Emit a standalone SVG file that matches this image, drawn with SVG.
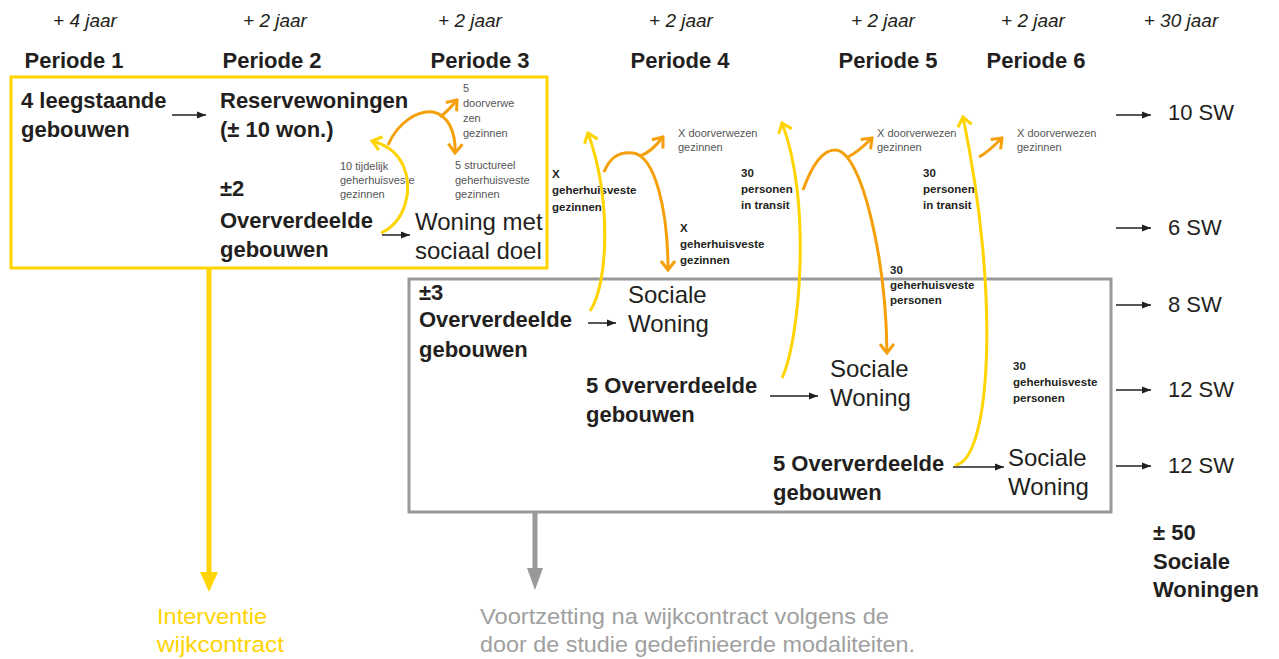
<svg xmlns="http://www.w3.org/2000/svg" width="1279" height="659" viewBox="0 0 1279 659">
<defs>
<style>
text{font-family:"Liberation Sans",Arial,sans-serif;fill:#231f20}
.it{font-style:italic;font-size:19px;text-anchor:middle}
.per{font-weight:bold;font-size:22px;text-anchor:middle}
.b{font-weight:bold;font-size:22px}
.r{font-size:24px}
.sw{font-size:22px}
.s{font-size:11px;fill:#555}
.sb{font-size:11.5px;font-weight:bold}
.blk{stroke:#231f20;stroke-width:1.5;fill:none}
.yc{stroke:#ffd400;stroke-width:3;fill:none}
.oc{stroke:#f5a00a;stroke-width:3;fill:none}
</style>
<marker id="ab" viewBox="0 0 10 10" refX="10" refY="5" markerWidth="9" markerHeight="9" markerUnits="userSpaceOnUse" orient="auto"><path d="M0,1 L10,5 L0,9 Z" fill="#231f20"/></marker>
<marker id="ay" viewBox="-12 -10 14 20" refX="0" refY="0" markerWidth="14" markerHeight="20" markerUnits="userSpaceOnUse" orient="auto"><path d="M-9,-7 L0,0 L-9,7" fill="none" stroke="#ffd400" stroke-width="3"/></marker>
<marker id="ao" viewBox="-12 -10 14 20" refX="0" refY="0" markerWidth="14" markerHeight="20" markerUnits="userSpaceOnUse" orient="auto"><path d="M-9,-7 L0,0 L-9,7" fill="none" stroke="#f5a00a" stroke-width="3"/></marker>
</defs>
<rect width="1279" height="659" fill="#ffffff"/>

<g id="header">
<text class="it" x="85" y="27">+ 4 jaar</text>
<text class="it" x="275" y="27">+ 2 jaar</text>
<text class="it" x="470" y="27">+ 2 jaar</text>
<text class="it" x="681" y="27">+ 2 jaar</text>
<text class="it" x="883" y="27">+ 2 jaar</text>
<text class="it" x="1033" y="27">+ 2 jaar</text>
<text class="it" x="1181" y="27">+ 30 jaar</text>
<text class="per" x="74" y="68">Periode 1</text>
<text class="per" x="272" y="68">Periode 2</text>
<text class="per" x="480" y="68">Periode 3</text>
<text class="per" x="680" y="68">Periode 4</text>
<text class="per" x="888" y="68">Periode 5</text>
<text class="per" x="1036" y="68">Periode 6</text>
</g>

<g id="box-wijkcontract">
<rect x="11" y="77" width="536" height="191" fill="none" stroke="#ffd400" stroke-width="3"/>
</g>
<g id="box-voortzetting">
<rect x="409" y="279" width="702" height="233" fill="none" stroke="#999999" stroke-width="3"/>
</g>

<g id="n-leegstaand"><text class="b" x="21" y="108">4 leegstaande</text><text class="b" x="21" y="137">gebouwen</text></g>
<g id="n-reserve"><text class="b" x="220" y="108">Reservewoningen</text><text class="b" x="220" y="137">(± 10 won.)</text></g>
<g id="n-over2"><text class="b" x="220" y="196">±2</text><text class="b" x="220" y="228">Oververdeelde</text><text class="b" x="220" y="257">gebouwen</text></g>
<g id="n-woning-sociaal"><text class="r" x="415" y="230">Woning met</text><text class="r" x="415" y="259">sociaal doel</text></g>

<g id="n-over3"><text class="b" x="419" y="300">±3</text><text class="b" x="419" y="327">Oververdeelde</text><text class="b" x="419" y="357">gebouwen</text></g>
<g id="n-sw1"><text class="r" x="628" y="303">Sociale</text><text class="r" x="628" y="332">Woning</text></g>
<g id="n-over5a"><text class="b" x="586" y="393">5 Oververdeelde</text><text class="b" x="586" y="422">gebouwen</text></g>
<g id="n-sw2"><text class="r" x="830" y="377">Sociale</text><text class="r" x="830" y="406">Woning</text></g>
<g id="n-over5b"><text class="b" x="773" y="471">5 Oververdeelde</text><text class="b" x="773" y="500">gebouwen</text></g>
<g id="n-sw3"><text class="r" x="1008" y="466">Sociale</text><text class="r" x="1008" y="495">Woning</text></g>

<g id="labels">
<text class="s"><tspan x="340" y="170">10 tijdelijk</tspan><tspan x="340" y="184">geherhuisveste</tspan><tspan x="340" y="198">gezinnen</tspan></text>
<text class="s"><tspan x="463" y="92">5</tspan><tspan x="463" y="107">doorverwe</tspan><tspan x="463" y="122">zen</tspan><tspan x="463" y="137">gezinnen</tspan></text>
<text class="s"><tspan x="455" y="169">5 structureel</tspan><tspan x="455" y="184">geherhuisveste</tspan><tspan x="455" y="198">gezinnen</tspan></text>
<text class="sb"><tspan x="552" y="178">X</tspan><tspan x="552" y="194">geherhuisveste</tspan><tspan x="552" y="211">gezinnen</tspan></text>
<text class="s"><tspan x="678" y="137">X doorverwezen</tspan><tspan x="678" y="151">gezinnen</tspan></text>
<text class="sb"><tspan x="680" y="232">X</tspan><tspan x="680" y="248">geherhuisveste</tspan><tspan x="680" y="264">gezinnen</tspan></text>
<text class="sb"><tspan x="741" y="177">30</tspan><tspan x="741" y="193">personen</tspan><tspan x="741" y="209">in transit</tspan></text>
<text class="s"><tspan x="877" y="137">X doorverwezen</tspan><tspan x="877" y="151">gezinnen</tspan></text>
<text class="sb"><tspan x="890" y="274">30</tspan><tspan x="890" y="289">geherhuisveste</tspan><tspan x="890" y="304">personen</tspan></text>
<text class="sb"><tspan x="923" y="177">30</tspan><tspan x="923" y="193">personen</tspan><tspan x="923" y="209">in transit</tspan></text>
<text class="s"><tspan x="1017" y="137">X doorverwezen</tspan><tspan x="1017" y="151">gezinnen</tspan></text>
<text class="sb"><tspan x="1013" y="370">30</tspan><tspan x="1013" y="386">geherhuisveste</tspan><tspan x="1013" y="402">personen</tspan></text>
</g>

<g id="n-totals">
<text class="sw" x="1168" y="120">10 SW</text>
<text class="sw" x="1168" y="235">6 SW</text>
<text class="sw" x="1168" y="312">8 SW</text>
<text class="sw" x="1168" y="397">12 SW</text>
<text class="sw" x="1168" y="473">12 SW</text>
<text class="b"><tspan x="1153" y="540">± 50</tspan><tspan x="1153" y="569">Sociale</tspan><tspan x="1153" y="597">Woningen</tspan></text>
</g>

<g id="n-outcomes">
<text style="font-size:22px;fill:#ffd400"><tspan x="157" y="624" textLength="110" lengthAdjust="spacingAndGlyphs">Interventie</tspan><tspan x="157" y="652" textLength="127" lengthAdjust="spacingAndGlyphs">wijkcontract</tspan></text>
<text style="font-size:22px;fill:#a0a0a0"><tspan x="480" y="624" textLength="409" lengthAdjust="spacingAndGlyphs">Voortzetting na wijkcontract volgens de</tspan><tspan x="480" y="652" textLength="435" lengthAdjust="spacingAndGlyphs">door de studie gedefinieerde modaliteiten.</tspan></text>
</g>

<g id="connectors">
<line class="blk" x1="172" y1="115" x2="206" y2="115" marker-end="url(#ab)"/>
<line class="blk" x1="382" y1="235" x2="410" y2="235" marker-end="url(#ab)"/>
<line class="blk" x1="588" y1="323" x2="616" y2="323" marker-end="url(#ab)"/>
<line class="blk" x1="770" y1="396" x2="818" y2="396" marker-end="url(#ab)"/>
<line class="blk" x1="953" y1="467" x2="1004" y2="467" marker-end="url(#ab)"/>
<line class="blk" x1="1116" y1="115" x2="1151" y2="115" marker-end="url(#ab)"/>
<line class="blk" x1="1116" y1="228" x2="1151" y2="228" marker-end="url(#ab)"/>
<line class="blk" x1="1116" y1="305" x2="1151" y2="305" marker-end="url(#ab)"/>
<line class="blk" x1="1116" y1="390" x2="1151" y2="390" marker-end="url(#ab)"/>
<line class="blk" x1="1116" y1="466" x2="1151" y2="466" marker-end="url(#ab)"/>

<path class="yc" d="M381,233 C405,222 414,190 403,165 C396,151 386,145 372,141" marker-end="url(#ay)"/>
<path class="oc" d="M388,145 C398,122 418,110 433,112 C448,115 456,132 455,153" marker-end="url(#ao)"/>
<path class="oc" d="M440,117 C447,112 452,106 457,100" marker-end="url(#ao)"/>

<path class="yc" d="M590,311 C608,285 612,200 588,133" marker-end="url(#ay)"/>
<path class="oc" d="M604,172 C612,152 625,152 633,153 C655,156 668,210 668,270" marker-end="url(#ao)"/>
<path class="oc" d="M640,156 C649,153 656,146 663,137" marker-end="url(#ao)"/>

<path class="yc" d="M782,378 C800,340 812,200 782,123" marker-end="url(#ay)"/>
<path class="oc" d="M803,190 C812,165 822,150 835,150 C862,150 886,260 887,353" marker-end="url(#ao)"/>
<path class="oc" d="M848,157 C856,153 864,146 872,138" marker-end="url(#ao)"/>

<path class="yc" d="M955,465 C990,462 1001,300 963,117" marker-end="url(#ay)"/>
<path class="oc" d="M979,157 C987,153 994,146 1002,138" marker-end="url(#ao)"/>

<line x1="209" y1="268" x2="209" y2="574" stroke="#ffd400" stroke-width="5"/>
<polygon points="200,572 218,572 209,592" fill="#ffd400"/>
<line x1="535" y1="512" x2="535" y2="570" stroke="#999999" stroke-width="5"/>
<polygon points="527,568 543,568 535,590" fill="#999999"/>
</g>
</svg>
